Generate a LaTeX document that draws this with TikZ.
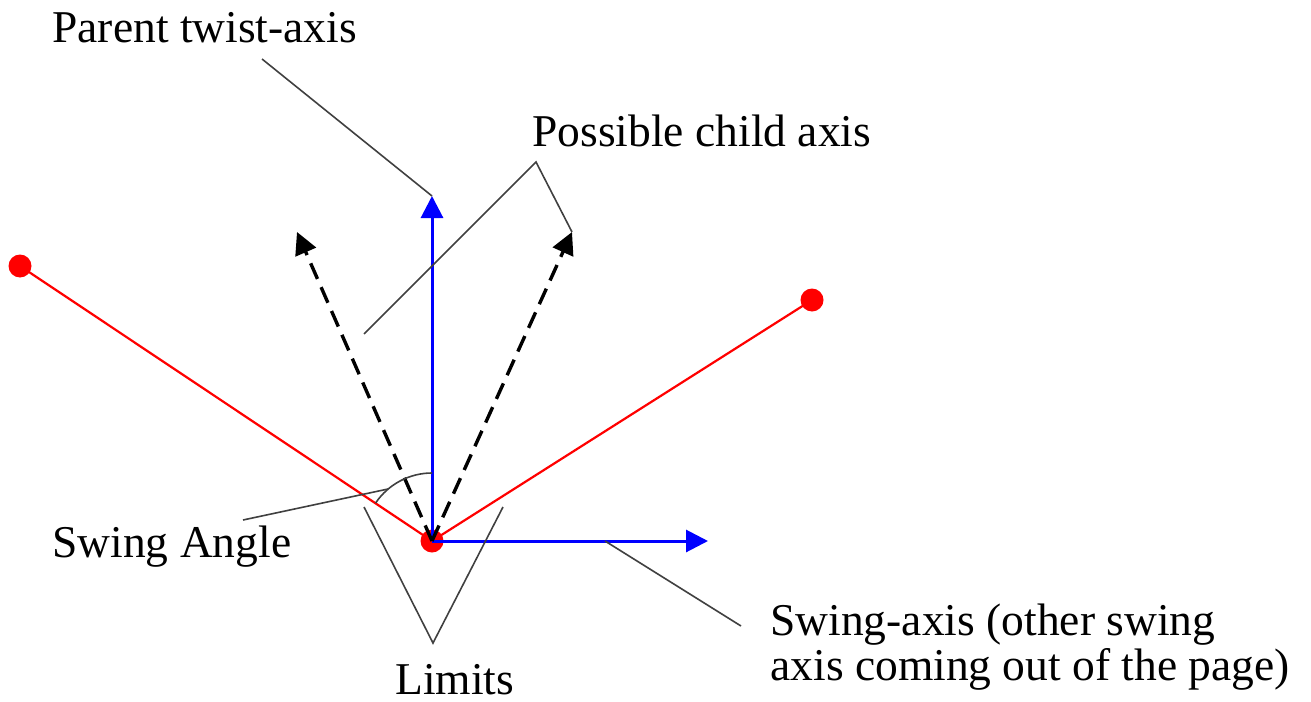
\documentclass[tikz,border=0pt]{standalone}
\usepackage{fontspec}
\setmainfont{Liberation Serif}
\usetikzlibrary{arrows.meta}
\begin{document}
\begin{tikzpicture}[x=0.5pt,y=-0.5pt,
  lbl/.style={inner sep=0pt,anchor=base west,font=\fontsize{22.75}{27}\selectfont},
  reddot/.style={circle,fill=red,inner sep=0pt,minimum size=11.5pt},
  redline/.style={red,line width=1.1pt},
  bluearrow/.style={blue,line width=1.5pt,-{Triangle[length=11pt,width=11pt]}},
  childarrow/.style={black,line width=1.7pt,dash pattern=on 8.5pt off 4.5pt,-{Triangle[length=11pt,width=11pt]}},
  leader/.style={black!75,line width=0.8pt}]
\useasboundingbox (0,0) rectangle (1311,701);
% key points
\coordinate (o) at (432,541);
\coordinate (pl) at (20,266);
\coordinate (pr) at (812,300);
\coordinate (tipT) at (432,196);
\coordinate (tipH) at (708,541);
\coordinate (tipL) at (297,232);
\coordinate (tipR) at (572,232);
% red limit lines and dots
\draw[redline] (o) -- (pl);
\draw[redline] (o) -- (pr);
\node[reddot] (dl) at (pl) {};
\node[reddot] (dr) at (pr) {};
\node[reddot] (dc) at (o) {};
% axes
\draw[bluearrow] (o) -- (tipT);
\draw[bluearrow] (o) -- (tipH);
\draw[childarrow] (o) -- (tipL);
\draw[childarrow] (o) -- (tipR);
% labels
\node[lbl] (ptw) at (52,43) {Parent twist-axis};
\node[lbl] (pca) at (532,147) {Possible child axis};
\node[lbl] (swa) at (52,557) {Swing Angle};
\node[lbl] (lim) at (395,694) {Limits};
\node[lbl] (sax1) at (770,635) {Swing-axis (other swing};
\node[lbl] (sax2) at (770,680) {axis coming out of the page)};
% leaders
\coordinate (ptwE) at (262,59);
\draw[leader] (ptwE) -- (tipT);
\coordinate (cv) at (536,162);
\coordinate (cl) at (364,334);
\draw[leader] (cl) -- (cv) -- (tipR);
\coordinate (arcS) at (432,473);
\draw[leader] (arcS) arc[start angle=-90,end angle=-146,radius=68];
\coordinate (swE) at (243,520);
\coordinate (swA) at (388,489);
\draw[leader] (swE) -- (swA);
\coordinate (limL) at (364,507);
\coordinate (limV) at (433,643);
\coordinate (limR) at (503,507);
\draw[leader] (limL) -- (limV) -- (limR);
\coordinate (saS) at (605,541);
\coordinate (saE) at (741,626);
\draw[leader] (saS) -- (saE);
\end{tikzpicture}
\end{document}
